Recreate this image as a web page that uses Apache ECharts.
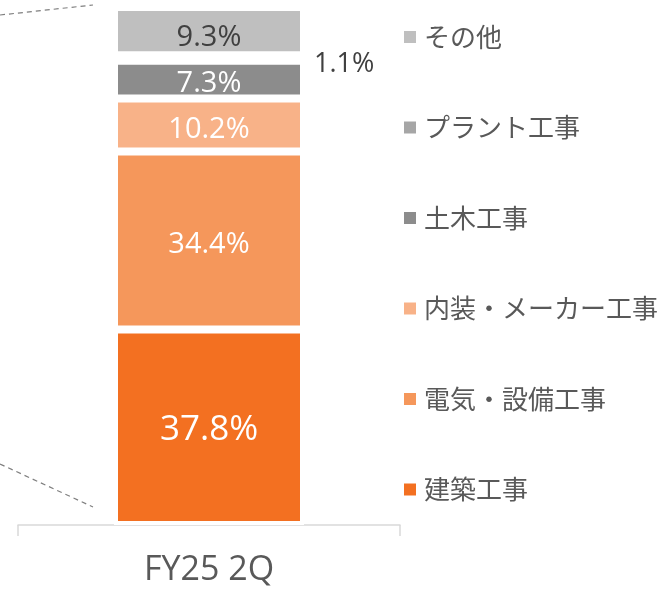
<!DOCTYPE html>
<html><head><meta charset="utf-8">
<script src="https://cdn.jsdelivr.net/npm/echarts@6/dist/echarts.min.js"></script>
<style>html,body{margin:0;padding:0;background:#fff}#c{width:667px;height:589px}</style>
</head><body><div id="c"></div>
<script>
const categories = ['FY25 2Q'];
const seriesNames = ['建築工事', '電気・設備工事', '内装・メーカー工事', '土木工事', 'プラント工事', 'その他'];
const seriesValues = [37.8, 34.4, 10.2, 7.3, 1.1, 9.3];
const seriesColors = ['#F37021', '#F5975B', '#F8B288', '#8C8C8C', '#A6A6A6', '#BFBFBF'];
const legendOrder = ['その他', 'プラント工事', '土木工事', '内装・メーカー工事', '電気・設備工事', '建築工事'];

const total = seriesValues.reduce((a, b) => a + b, 0);
const latin = '"Open Sans", "Noto Sans", sans-serif';
const cjk = '"Noto Sans CJK JP", "Noto Sans", sans-serif';

const labelStyles = {
  '建築工事': {color: '#ffffff', fontSize: 35, position: 'inside', offset: [0, 3]},
  '電気・設備工事': {color: '#ffffff', fontSize: 29, position: 'inside', offset: [0, 4]},
  '内装・メーカー工事': {color: '#ffffff', fontSize: 29, position: 'inside', offset: [0, 5]},
  '土木工事': {color: '#ffffff', fontSize: 29, position: 'inside', offset: [0, 4]},
  'プラント工事': {color: '#404040', fontSize: 27, position: 'right', distance: 10, offset: [0, 6]},
  'その他': {color: '#404040', fontSize: 29, position: 'inside', offset: [0, 7]}
};

const series = seriesNames.map((name, i) => ({
  name: name,
  type: 'bar',
  stack: 'total',
  barWidth: 190,
  data: [seriesValues[i]],
  itemStyle: {color: seriesColors[i], borderColor: '#ffffff', borderWidth: 4},
  label: Object.assign({
    show: true,
    fontFamily: latin,
    formatter: p => p.value.toFixed(1) + '%'
  }, labelStyles[name]),
  emphasis: {disabled: true}
}));

const chart = echarts.init(document.getElementById('c'), null, {renderer: 'canvas'});
chart.setOption({
  animation: false,
  grid: {left: 18, right: 267, top: 7, bottom: 64},
  xAxis: {
    type: 'category',
    data: categories,
    axisLine: {lineStyle: {color: '#D9D9D9', width: 1.5}},
    axisTick: {show: true, length: 11, lineStyle: {color: '#D9D9D9', width: 1.5}},
    axisLabel: {color: '#595959', fontSize: 34, fontFamily: latin, margin: 28}
  },
  yAxis: {type: 'value', min: 0, max: total, show: false, splitLine: {show: false}},
  legend: {
    orient: 'vertical',
    left: 397,
    top: 19,
    padding: 5,
    data: legendOrder,
    icon: 'rect',
    itemWidth: 14,
    itemHeight: 14,
    itemGap: 64.5,
    selectedMode: false,
    textStyle: {color: '#595959', fontSize: 26, fontFamily: cjk, lineHeight: 26, padding: [0, 0, 0, 2]}
  },
  graphic: [
    {type: 'line', shape: {x1: 0, y1: 15, x2: 93, y2: 5}, style: {stroke: '#7F7F7F', lineWidth: 1.2, lineDash: [5, 4]}},
    {type: 'line', shape: {x1: 0, y1: 464, x2: 93, y2: 507}, style: {stroke: '#7F7F7F', lineWidth: 1.2, lineDash: [5, 4]}}
  ],
  series: series
});
</script></body></html>
